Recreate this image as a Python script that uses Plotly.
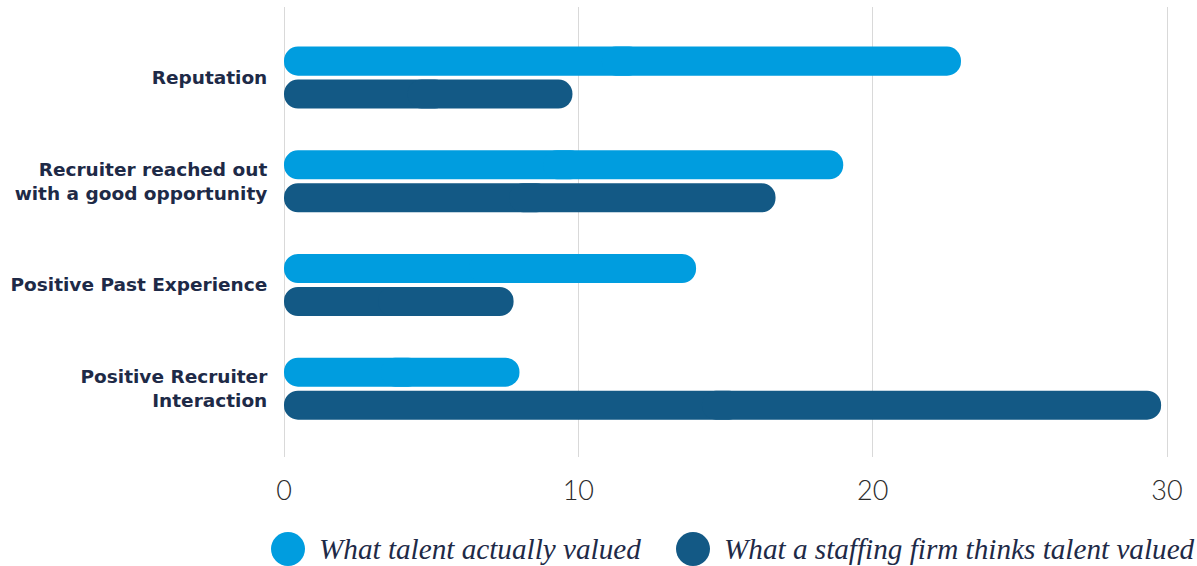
import plotly.graph_objects as go

categories = ["Reputation", "Recruiter reached out<br>with a good opportunity",
              "Positive Past Experience", "Positive Recruiter<br>Interaction"]
talent_values = [23, 19, 14, 8]
firm_values = [9.8, 16.7, 7.8, 29.8]
series_names = ["What talent actually valued", "What a staffing firm thinks talent valued"]
tick_vals = [0, 10, 20, 30]

LIGHT = "#009DDF"
DARK = "#135985"
LABEL = "#1E2A47"

BAR_W = 0.28
OVERLAP = 0.7  # each half extends past the midpoint so the two rounded pieces merge into one pill
series = [(talent_values, LIGHT, -0.158, series_names[0]),
          (firm_values, DARK, 0.16, series_names[1])]

fig = go.Figure()
for vals, col, off, name in series:
    left_end = [v / 2 + OVERLAP for v in vals]
    right_start = [v / 2 - OVERLAP for v in vals]
    # left piece drawn from past the midpoint back to 0 (rounded at 0)
    fig.add_trace(go.Bar(y=categories, x=[-a for a in left_end], base=left_end, orientation="h",
                         name=name, width=BAR_W, offset=off - BAR_W / 2,
                         marker=dict(color=col, cornerradius="50%", line=dict(width=0)),
                         showlegend=False, hoverinfo="skip"))
    # right piece drawn from before the midpoint to the value (rounded at the value)
    fig.add_trace(go.Bar(y=categories, x=[v - b for v, b in zip(vals, right_start)],
                         base=right_start, orientation="h",
                         name=name, width=BAR_W, offset=off - BAR_W / 2,
                         customdata=vals,
                         hovertemplate="%{y}: %{customdata}<extra>" + name + "</extra>",
                         marker=dict(color=col, cornerradius="50%", line=dict(width=0)),
                         showlegend=False))

W, H = 1197, 566
ml, mr, mt, mb = 282, 28, 7, 109
xr = [-0.068, 30.068]

fig.update_layout(
    width=W, height=H,
    margin=dict(l=ml, r=mr, t=mt, b=mb),
    paper_bgcolor="white", plot_bgcolor="white",
    barmode="overlay",
    xaxis=dict(range=xr, tickvals=tick_vals, showgrid=True, gridcolor="#D9D9D9",
               gridwidth=1, zeroline=False, showline=False,
               ticks="outside", ticklen=10, tickcolor="rgba(0,0,0,0)",
               tickfont=dict(family="Lato", size=27, color="#2B2B2B", weight=300)),
    yaxis=dict(type="category", categoryorder="array", categoryarray=categories,
               range=[3.66, -0.68], showgrid=False, zeroline=False, showline=False,
               ticks="outside", ticklen=10, tickcolor="rgba(0,0,0,0)",
               tickfont=dict(family="DejaVu Sans", size=18.5, color=LABEL, weight=700)),
    showlegend=False,
)

# custom legend (circles + italic serif labels)
pw = W - ml - mr
ph = H - mt - mb
legend_items = [(288, series_names[0], LIGHT), (693, series_names[1], DARK)]
cy = 549
r = 17
for cx, name, col in legend_items:
    fig.add_shape(type="circle", xref="paper", yref="paper",
                  x0=(cx - r - ml) / pw, x1=(cx + r - ml) / pw,
                  y0=(H - (cy + r) - mb) / ph, y1=(H - (cy - r) - mb) / ph,
                  fillcolor=col, line=dict(width=0))
    fig.add_annotation(xref="paper", yref="paper",
                       x=(cx + r + 12 - ml) / pw, y=(H - cy - mb) / ph,
                       xanchor="left", yanchor="middle", showarrow=False,
                       text=name,
                       font=dict(family="Liberation Serif", size=29.2, color="#1E2A47", style="italic"))

fig.write_html("out.html")
